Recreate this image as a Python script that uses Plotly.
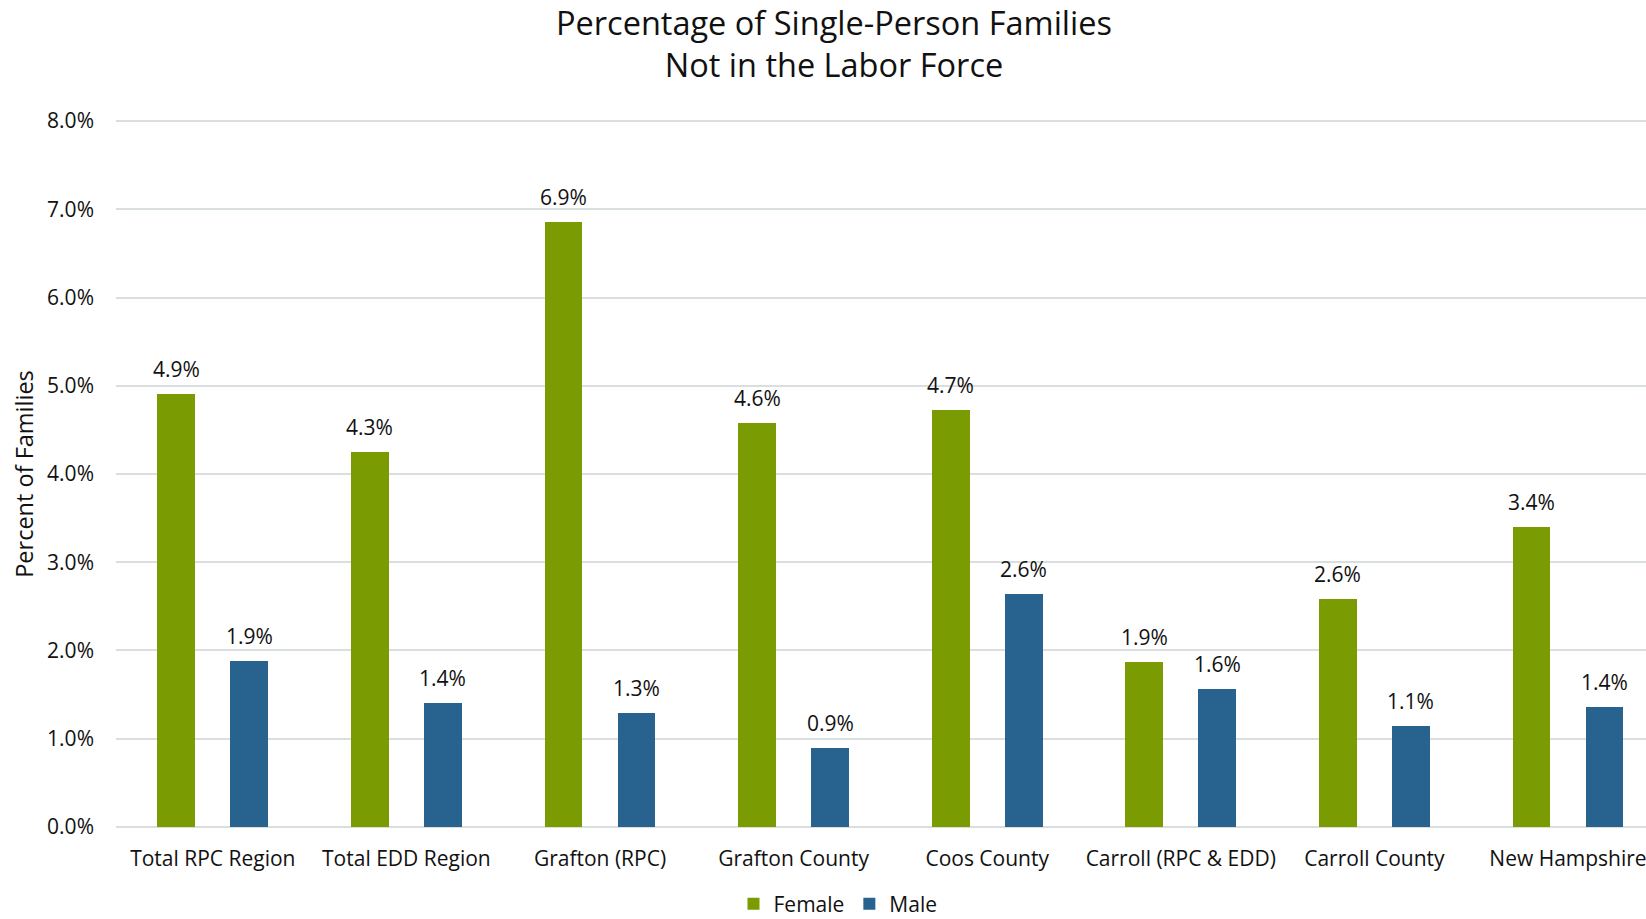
import plotly.graph_objects as go

categories = ["Total RPC Region", "Total EDD Region", "Grafton (RPC)", "Grafton County",
              "Coos County", "Carroll (RPC & EDD)", "Carroll County", "New Hampshire"]
female = [0.04912, 0.04255, 0.06855, 0.04577, 0.04731, 0.01875, 0.02578, 0.03405]
male = [0.01882, 0.01406, 0.01295, 0.00899, 0.02635, 0.01569, 0.01139, 0.01361]
y_ticks = [0.0, 0.01, 0.02, 0.03, 0.04, 0.05, 0.06, 0.07, 0.08]

GREEN = "#7a9b01"
BLUE = "#27638e"
FONT = "Open Sans"
TXT = "#111111"

W = 0.196
HALF = 36.5 / 193.6
OFF_F = -HALF - W / 2
OFF_M = HALF - W / 2

fig = go.Figure()
fig.add_trace(go.Bar(name="Female", x=list(range(len(categories))), y=female,
                     width=W, offset=OFF_F, marker=dict(color=GREEN, line=dict(width=0))))
fig.add_trace(go.Bar(name="Male", x=list(range(len(categories))), y=male,
                     width=W, offset=OFF_M, marker=dict(color=BLUE, line=dict(width=0))))

anns = []
for i, (f, m) in enumerate(zip(female, male)):
    for v, off in ((f, OFF_F), (m, OFF_M)):
        anns.append(dict(x=i + off + W / 2, y=v, xref="x", yref="y", text=f"{v*100:.1f}%",
                         showarrow=False, yanchor="bottom", yshift=9,
                         font=dict(family=FONT, size=21, color=TXT)))

fig.update_layout(
    width=1646, height=919,
    margin=dict(l=116, r=0, t=120, b=91),
    paper_bgcolor="white", plot_bgcolor="white",
    barmode="overlay",
    title=dict(text="Percentage of Single-Person Families<br>Not in the Labor Force",
               x=834 / 1646, xanchor="center", xref="container",
               y=1 - 34.5 / 919, yanchor="top", yref="container",
               font=dict(family=FONT, size=32.5, color=TXT)),
    xaxis=dict(range=[-0.5, (1646 - 116) / 193.6 - 0.5], tickmode="array",
               tickvals=list(range(len(categories))), ticktext=categories,
               showgrid=False, zeroline=False, showline=False, ticks="",
               ticklabelstandoff=16, ticklabeloverflow="allow",
               tickfont=dict(family=FONT, size=21, color=TXT)),
    yaxis=dict(range=[-0.00012, 0.08012], tickmode="array", tickvals=y_ticks,
               ticktext=[f"{t*100:.1f}%" for t in y_ticks],
               showgrid=True, gridcolor="#d9dedf", gridwidth=2, zeroline=False,
               showline=False, ticks="", ticklabelstandoff=21,
               tickfont=dict(family=FONT, size=21, color=TXT),
               title=dict(text="Percent of Families", standoff=6,
                          font=dict(family=FONT, size=23.5, color=TXT))),
    legend=dict(orientation="h", xref="container", yref="container",
                x=838 / 1646, xanchor="center", y=1 - 904 / 919, yanchor="middle",
                font=dict(family=FONT, size=21, color=TXT),
                itemclick=False),
    annotations=anns,
    bargap=0,
)

fig.write_html("out.html")
